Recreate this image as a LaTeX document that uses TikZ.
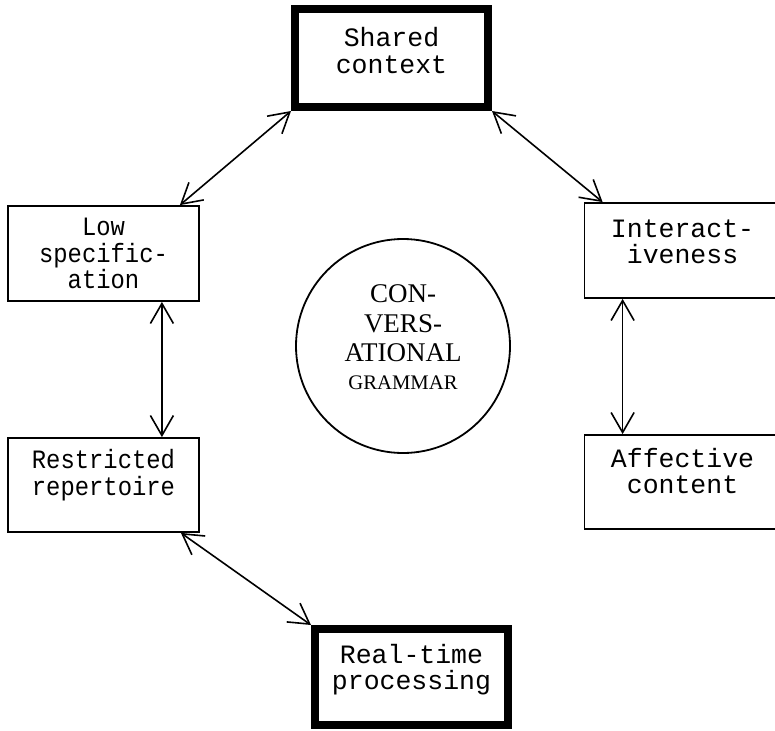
\documentclass[tikz,border=0pt]{standalone}
\usepackage{fontspec}
\setmainfont{Liberation Serif}
\newfontfamily\cmono{Liberation Mono}
\usetikzlibrary{arrows.meta}
\newcommand{\bxtext}[4]{\parbox[t][#2][t]{#1}{\centering\rule{0pt}{#3}#4}}
\newcommand{\narrowtxt}[1]{\scalebox{0.9}[1]{#1}}
\tikzset{
  boxfont/.style={font=\cmono\fontsize{26.5}{26.5}\selectfont},
  thinbox/.style={draw, line width=1.8pt, inner sep=0pt, anchor=north west, boxfont},
  thickbox/.style={draw, line width=8pt, inner sep=0pt, anchor=north west, boxfont},
  conn/.style={line width=1.6pt, >={Straight Barb[length=20pt,width=23pt]}, <->},
  hub/.style={draw, circle, line width=1.8pt, inner sep=0pt, minimum size=214pt}
}
\begin{document}
\begin{tikzpicture}[x=1pt,y=-1pt]
\useasboundingbox (0,0) rectangle (775,730);
\clip (0,0) rectangle (775,730);
\fill[white] (0,0) rectangle (775,730);

\node[thickbox] (shared) at (291,5.5) {\bxtext{193pt}{97.5pt}{37.5pt}{Shared\\context}};
\node[thinbox] (low) at (7.1,205.1) {\bxtext{191pt}{95pt}{29.5pt}{\narrowtxt{Low}\\\narrowtxt{specific-}\\\narrowtxt{ation}}};
\node[thinbox] (restr) at (7.1,437.1) {\bxtext{191pt}{94pt}{30.5pt}{\narrowtxt{Restricted}\\\narrowtxt{repertoire}}};
\node[thinbox] (inter) at (583.6,202.1) {\bxtext{196pt}{95pt}{34pt}{Interact-\\iveness}};
\node[thinbox] (affect) at (583.6,434.1) {\bxtext{196pt}{94pt}{32pt}{Affective\\content}};
\node[thickbox] (real) at (311,625) {\bxtext{193pt}{96pt}{34pt}{Real-time\\processing}};

\node[hub] (cg) at (403,346) {\raisebox{-43.5pt}[0pt][0pt]{\parbox[b]{160pt}{\centering\fontsize{27}{29.5}\selectfont CON-\\VERS-\\ATIONAL\par\fontsize{20.7}{28}\selectfont GRAMMAR}}};

\draw[conn] ([xshift=-20pt]low.north east) -- (shared.south west);
\draw[conn] (shared.south east) -- ([xshift=19pt]inter.north west);
\draw[conn] ([xshift=-38pt]low.south east) -- ([xshift=-38pt]restr.north east);
\draw[conn] ([xshift=39pt]inter.south west) -- ([xshift=39pt]affect.north west);
\draw[conn] ([xshift=-19pt]restr.south east) -- (real.north west);
\end{tikzpicture}
\end{document}
